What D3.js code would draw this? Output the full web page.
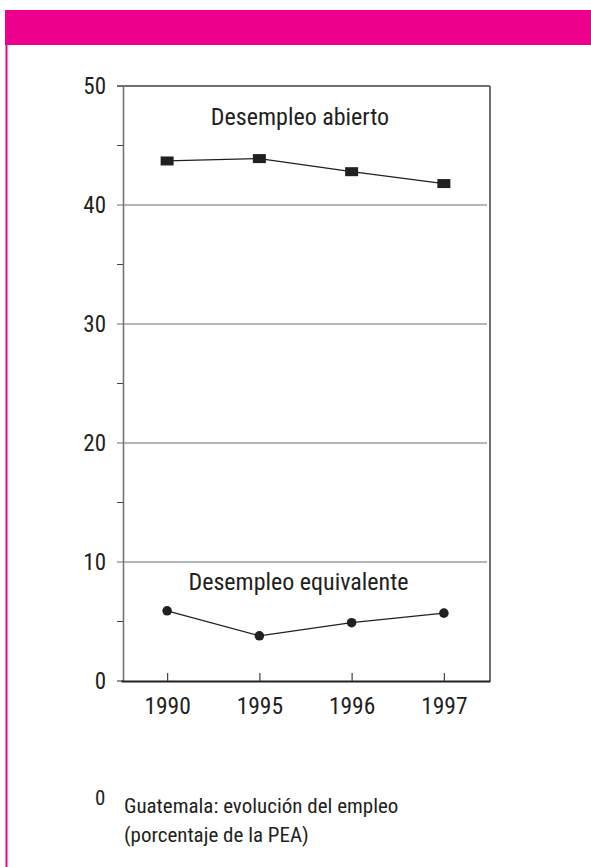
<!DOCTYPE html>
<html>
<head>
<meta charset="utf-8">
<script src="https://cdn.jsdelivr.net/npm/d3@7"></script>
<style>
  html, body { margin: 0; padding: 0; background: #fff; }
  svg { display: block; }
  text { font-family: "Liberation Sans Narrow", "Arial Narrow", "Roboto Condensed", sans-serif; fill: #231f20; }
</style>
</head>
<body>
<svg id="chart" width="591" height="867"></svg>
<script>
const years = ["1990", "1995", "1996", "1997"];
const abierto = [43.7, 43.9, 42.8, 41.8];
const equivalente = [5.9, 3.8, 4.9, 5.7];
const yMajorTicks = [0, 10, 20, 30, 40, 50];
const yMinorTicks = [5, 15, 25, 35, 45];
const seriesLabels = ["Desempleo abierto", "Desempleo equivalente"];
const captionNumber = "0";
const captionLines = ["Guatemala: evolución del empleo", "(porcentaje de la PEA)"];

const svg = d3.select("#chart");
const pink = "#ec008c";

// frame
svg.append("rect").attr("x", 5).attr("y", 10).attr("width", 586).attr("height", 35).attr("fill", pink);
svg.append("rect").attr("x", 5.5).attr("y", 45).attr("width", 2).attr("height", 822).attr("fill", pink);

const pLeft = 123, pRight = 490, pTop = 86, pBottom = 681;
const x = d3.scalePoint().domain(years).range([pLeft - 2, pRight]).padding(0.5);
const y = d3.scaleLinear().domain([0, 50]).range([pBottom, pTop]);

// gridlines
const g = svg.append("g");
g.selectAll("line.grid").data(yMajorTicks.filter(d => d > 0 && d < 50)).join("line")
  .attr("x1", pLeft - 6).attr("x2", pRight - 3)
  .attr("y1", d => y(d)).attr("y2", d => y(d))
  .attr("stroke", "#6d6e71").attr("stroke-width", 1.2);
// top border
g.append("line").attr("x1", pLeft - 6).attr("x2", pRight).attr("y1", y(50)).attr("y2", y(50))
  .attr("stroke", "#414042").attr("stroke-width", 1.3);
// right border
g.append("line").attr("x1", pRight).attr("x2", pRight).attr("y1", y(50)).attr("y2", pBottom)
  .attr("stroke", "#414042").attr("stroke-width", 1.5);
// left axis
const yAxis = d3.axisLeft(y).tickValues(yMajorTicks).tickSize(0).tickPadding(17);
const ya = svg.append("g").attr("transform", `translate(${pLeft},0)`).call(yAxis);
ya.select(".domain").attr("stroke", "#6d6e71").attr("stroke-width", 1.5);
ya.selectAll("text").style("font-size", "23px").attr("fill", "#231f20");
// minor ticks
g.selectAll("line.minor").data(yMinorTicks).join("line")
  .attr("x1", pLeft - 6).attr("x2", pLeft)
  .attr("y1", d => y(d)).attr("y2", d => y(d))
  .attr("stroke", "#414042").attr("stroke-width", 1);
// 0 tick outside
g.append("line").attr("x1", pLeft - 6).attr("x2", pLeft).attr("y1", pBottom).attr("y2", pBottom)
  .attr("stroke", "#6d6e71").attr("stroke-width", 1.5);

// bottom axis
const xAxis = d3.axisBottom(x).tickSizeInner(-8).tickSizeOuter(0).tickPadding(16);
const xa = svg.append("g").attr("transform", `translate(0,${pBottom})`).call(xAxis);
xa.select(".domain").attr("stroke", "#231f20").attr("stroke-width", 2.2);
xa.selectAll(".tick line").attr("stroke", "#414042").attr("stroke-width", 1.2);
xa.selectAll("text").style("font-size", "23.5px").attr("fill", "#231f20");
ya.attr("font-family", null); xa.attr("font-family", null);

// lines
const line = d3.line().x((d, i) => x(years[i])).y(d => y(d));
svg.append("path").datum(abierto).attr("d", line).attr("fill", "none").attr("stroke", "#231f20").attr("stroke-width", 1.3);
svg.append("path").datum(equivalente).attr("d", line).attr("fill", "none").attr("stroke", "#231f20").attr("stroke-width", 1.3);

svg.selectAll("rect.m").data(abierto).join("rect")
  .attr("x", (d, i) => x(years[i]) - 6.5).attr("y", d => y(d) - 4.5)
  .attr("width", 13).attr("height", 9).attr("fill", "#231f20");
svg.selectAll("circle.m").data(equivalente).join("circle")
  .attr("cx", (d, i) => x(years[i])).attr("cy", d => y(d)).attr("r", 4.8).attr("fill", "#231f20");

// series labels
svg.append("text").attr("x", 300).attr("y", 125).attr("text-anchor", "middle")
  .style("font-size", "24px").text(seriesLabels[0]);
svg.append("text").attr("x", 298.5).attr("y", 590).attr("text-anchor", "middle")
  .style("font-size", "24px").text(seriesLabels[1]);

// caption
svg.append("text").attr("x", 95).attr("y", 805).style("font-size", "21px").text(captionNumber);
svg.selectAll("text.cap").data(captionLines).join("text")
  .attr("x", 124).attr("y", (d, i) => 813 + i * 29).style("font-size", "21px").text(d => d);
</script>
</body>
</html>
